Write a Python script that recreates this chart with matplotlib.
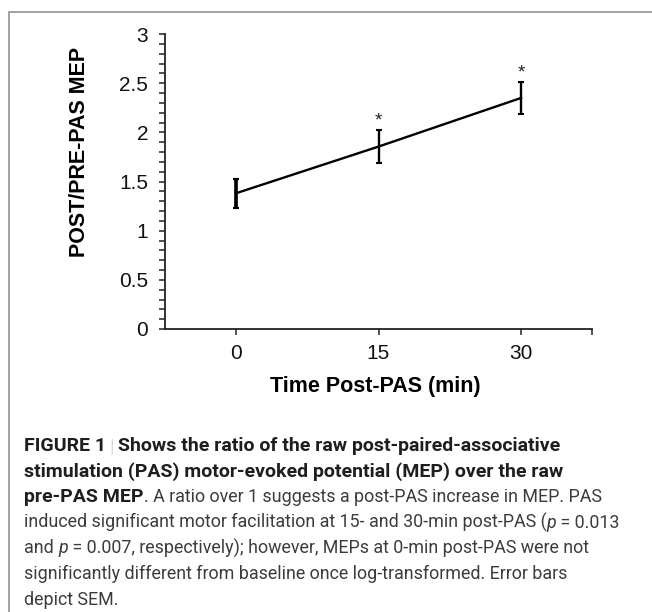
import numpy as np
import matplotlib
matplotlib.use('Agg')
import matplotlib.pyplot as plt
from matplotlib.ticker import MultipleLocator, FixedLocator

# data
times = [0, 15, 30]
mep_ratio = [1.38, 1.855, 2.35]
mep_sem = [0.15, 0.168, 0.16]
sig_marks = ['', '*', '*']
x_ticks = [0, 15, 30]
y_ticks = [0, 0.5, 1, 1.5, 2, 2.5, 3]
y_tick_labels = ['0', '0.5', '1', '1.5', '2', '2.5', '3']

caption_lines = [
    [('FIGURE 1', 'b'), (' | ', 'bar'), ('Shows the ratio of the raw post-paired-associative', 'b')],
    [('stimulation (PAS) motor-evoked potential (MEP) over the raw', 'b')],
    [('pre-PAS MEP', 'b'), ('. A ratio over 1 suggests a post-PAS increase in MEP. PAS', 'r')],
    [('induced significant motor facilitation at 15- and 30-min post-PAS (', 'r'), ('p', 'i'), (' = 0.013', 'r')],
    [('and ', 'r'), ('p', 'i'), (' = 0.007, respectively); however, MEPs at 0-min post-PAS were not', 'r')],
    [('significantly different from baseline once log-transformed. Error bars', 'r')],
    [('depict SEM.', 'r')],
]

W, H = 652, 612
fig = plt.figure(figsize=(W / 100, H / 100), dpi=100)
fig.patch.set_facecolor('white')

chart_font = 'Liberation Sans'

# axes box in pixels: y axis at x=165, x axis ends at 592, y=0 at 329, y=3 at 34
ax = fig.add_axes([165 / W, 1 - 329 / H, (592 - 165) / W, (329 - 34) / H])

ax.errorbar(times, mep_ratio, yerr=mep_sem, color='black', lw=1.7,
            elinewidth=1.7, capsize=2.4, capthick=1.5)
# first bar looks heavier in the original
ax.errorbar(times[:1], mep_ratio[:1], yerr=mep_sem[:1], color='black', lw=0,
            elinewidth=2.6, capsize=2.4, capthick=1.5)

for t, m, s, mark in zip(times, mep_ratio, mep_sem, sig_marks):
    if mark:
        ax.annotate(mark, xy=(t, m + s), xytext=(0, 0.5), textcoords='offset points',
                    ha='center', va='bottom', fontsize=13.5, family=chart_font,
                    color='#222222')

ax.set_xlim(-7.45, 37.45)
ax.set_ylim(0, 3)
for side in ['top', 'right']:
    ax.spines[side].set_visible(False)
for side in ['left', 'bottom']:
    ax.spines[side].set_linewidth(1.3)
    ax.spines[side].set_color('#222222')

ax.set_xticks(x_ticks)
ax.set_xticklabels([str(t) for t in x_ticks])
ax.xaxis.set_minor_locator(FixedLocator([37.45]))
ax.set_yticks(y_ticks)
ax.set_yticklabels(y_tick_labels)
ax.yaxis.set_minor_locator(MultipleLocator(0.1))

ax.tick_params(axis='both', which='both', direction='out', width=1.1,
               color='#222222', labelsize=15, labelcolor='#111111')
ax.tick_params(axis='both', which='major', length=4)
ax.tick_params(axis='both', which='minor', length=4)
ax.tick_params(axis='y', which='major', pad=8)
ax.tick_params(axis='x', which='major', pad=7)
for lab in ax.get_xticklabels() + ax.get_yticklabels():
    lab.set_family(chart_font)

ax.set_ylabel('POST/PRE-PAS MEP', fontsize=15.5, fontweight='bold', family=chart_font)
ax.yaxis.set_label_coords(-0.176, 0.6)
ax.set_xlabel('Time Post-PAS (min)', fontsize=15.5, fontweight='bold', family=chart_font)
ax.xaxis.set_label_coords(0.492, -0.158)

# frame round the whole figure panel
fig.add_artist(plt.Rectangle((9 / W, -0.1), 1.2, 1.1 - 12 / H, transform=fig.transFigure,
                             fill=False, ec='#9a9a9a', lw=1.3))

# caption, drawn segment by segment
styles = {
    'b': dict(family=['Roboto', 'DejaVu Sans'], fontweight='bold', color='#1e1e1e'),
    'r': dict(family=['Roboto', 'DejaVu Sans'], fontweight='normal', color='#3c3c3c'),
    'i': dict(family=['Roboto', 'DejaVu Sans'], fontweight='normal', style='italic', color='#3c3c3c'),
    'bar': dict(family=['Roboto', 'DejaVu Sans'], fontweight='light', color='#999999'),
}
renderer = fig.canvas.get_renderer()


def text_w(s, style, size):
    t = fig.text(0, 0, s, fontsize=size, **styles[style])
    w = t.get_window_extent(renderer).width
    t.remove()
    return w


def seg_w(s, style, size):
    # sandwich so leading/trailing spaces are counted
    return text_w('H' + s + 'H', style, size) - text_w('HH', style, size)


base = 11.0
bold_size = base * (563 - 24) / seg_w(caption_lines[1][0][0], 'b', base)
reg_size = base * (567 - 24) / seg_w(caption_lines[5][0][0], 'r', base)
sizes = {'b': bold_size, 'r': reg_size, 'i': reg_size, 'bar': reg_size}

x0 = 24
baseline0 = 451
line_step = 25.6
for i, line in enumerate(caption_lines):
    x = x0
    y = baseline0 + i * line_step
    for s, style in line:
        fig.text(x / W, 1 - y / H, s, fontsize=sizes[style], va='baseline', ha='left',
                 **styles[style])
        x += seg_w(s, style, sizes[style])

fig.savefig('out.png', dpi=100)
